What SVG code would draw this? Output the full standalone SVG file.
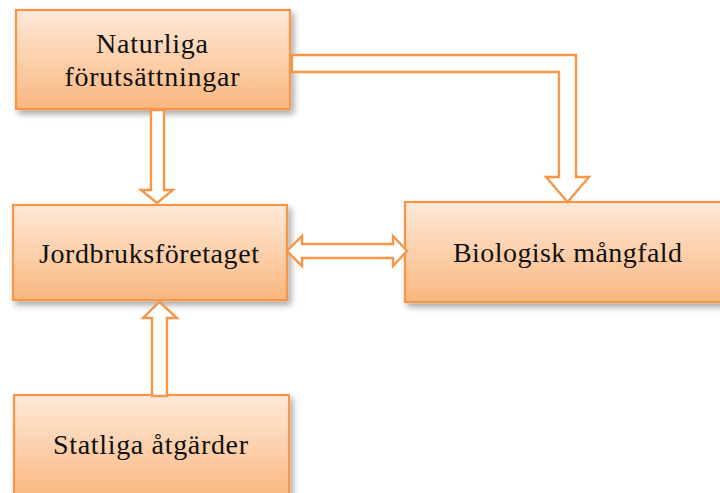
<svg xmlns="http://www.w3.org/2000/svg" width="720" height="493" viewBox="0 0 720 493">
<style>
.box{fill:url(#g);stroke:#f79646;stroke-width:2.2;filter:url(#sh)}
.lbl{font-family:"Liberation Serif","Times New Roman",serif;font-size:28px;fill:#111;text-anchor:middle}
.arr{fill:#fff;stroke:#f79646;stroke-width:2.4;stroke-linejoin:miter}
</style>
<defs>
<linearGradient id="g" x1="0" y1="0" x2="0" y2="1">
<stop offset="0" stop-color="#fde9d9"/>
<stop offset="0.5" stop-color="#fcd0ac"/>
<stop offset="1" stop-color="#fab67f"/>
</linearGradient>
<filter id="sh" x="-10%" y="-10%" width="125%" height="130%">
<feDropShadow dx="3" dy="4" stdDeviation="3" flood-color="#000" flood-opacity="0.35"/>
</filter>
</defs>
<g id="n-naturliga">
<rect class="box" x="16" y="10" width="274" height="99"/>
<text class="lbl" x="152" y="53" textLength="112" lengthAdjust="spacing">Naturliga</text>
<text class="lbl" x="152" y="86" textLength="175" lengthAdjust="spacing">förutsättningar</text>
</g>
<g id="n-jordbruk">
<rect class="box" x="13" y="205" width="274" height="95"/>
<text class="lbl" x="149" y="263" textLength="220" lengthAdjust="spacing">Jordbruksföretaget</text>
</g>
<g id="n-biologisk">
<rect class="box" x="405" y="202" width="320" height="100"/>
<text class="lbl" x="567.5" y="262" textLength="229" lengthAdjust="spacing">Biologisk mångfald</text>
</g>
<g id="n-statliga">
<rect class="box" x="14" y="395" width="275" height="105"/>
<text class="lbl" x="150.5" y="454" textLength="195" lengthAdjust="spacing">Statliga åtgärder</text>
</g>
<g id="connectors">
<path class="arr" d="M151,110 L164,110 L164,190 L173,190 L157,203 L141,190 L151,190 Z"/>
<path class="arr" d="M292,55 L576,55 L576,177 L589,177 L567.5,202 L546,177 L559,177 L559,72 L292,72 Z"/>
<path class="arr" d="M287,251 L302,236 L302,244 L393,244 L393,236 L407,251 L393,266 L393,258 L302,258 L302,266 Z"/>
<path class="arr" d="M159.5,302 L177,318 L167,318 L167,396 L152,396 L152,318 L143,318 Z"/>
</g>
</svg>
